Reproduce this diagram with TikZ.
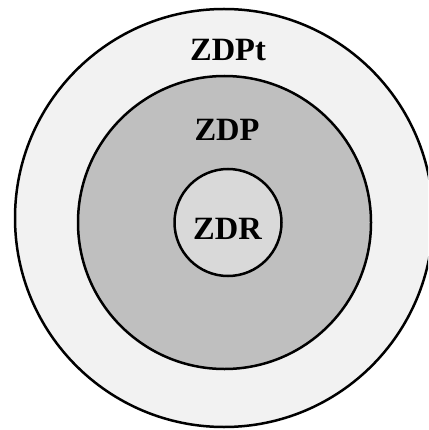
\documentclass[tikz,border=0pt]{standalone}
\usepackage{fontspec}
\setmainfont{Liberation Serif}
\definecolor{ringout}{HTML}{F2F2F2}
\definecolor{ringmid}{HTML}{BFBFBF}
\definecolor{ringin}{HTML}{D9D9D9}
\begin{document}
\begin{tikzpicture}[x=1pt,y=-1pt,
  zone/.style={circle,draw=black,line width=2.5pt,inner sep=0pt,outer sep=0pt},
  lbl/.style={anchor=base,font=\fontsize{32.5}{38}\selectfont\bfseries,inner sep=0pt}]
\useasboundingbox (0,0) rectangle (428,430);
\fill[white] (0,0) rectangle (428,430);
\clip (0,0) rectangle (428,430);
\node[zone,fill=ringout,minimum size=418pt] (outer) at (224,218) {};
\node[zone,fill=ringmid,minimum size=293pt] (middle) at (224.5,222.5) {};
\node[zone,fill=ringin,minimum size=107pt] (inner) at (228,222.5) {};
\node[lbl] (tzdpt) at (228,60.5) {ZDPt};
\node[lbl] (tzdp) at (227,141) {ZDP};
\node[lbl] (tzdr) at (227.5,239.5) {ZDR};
\end{tikzpicture}
\end{document}
